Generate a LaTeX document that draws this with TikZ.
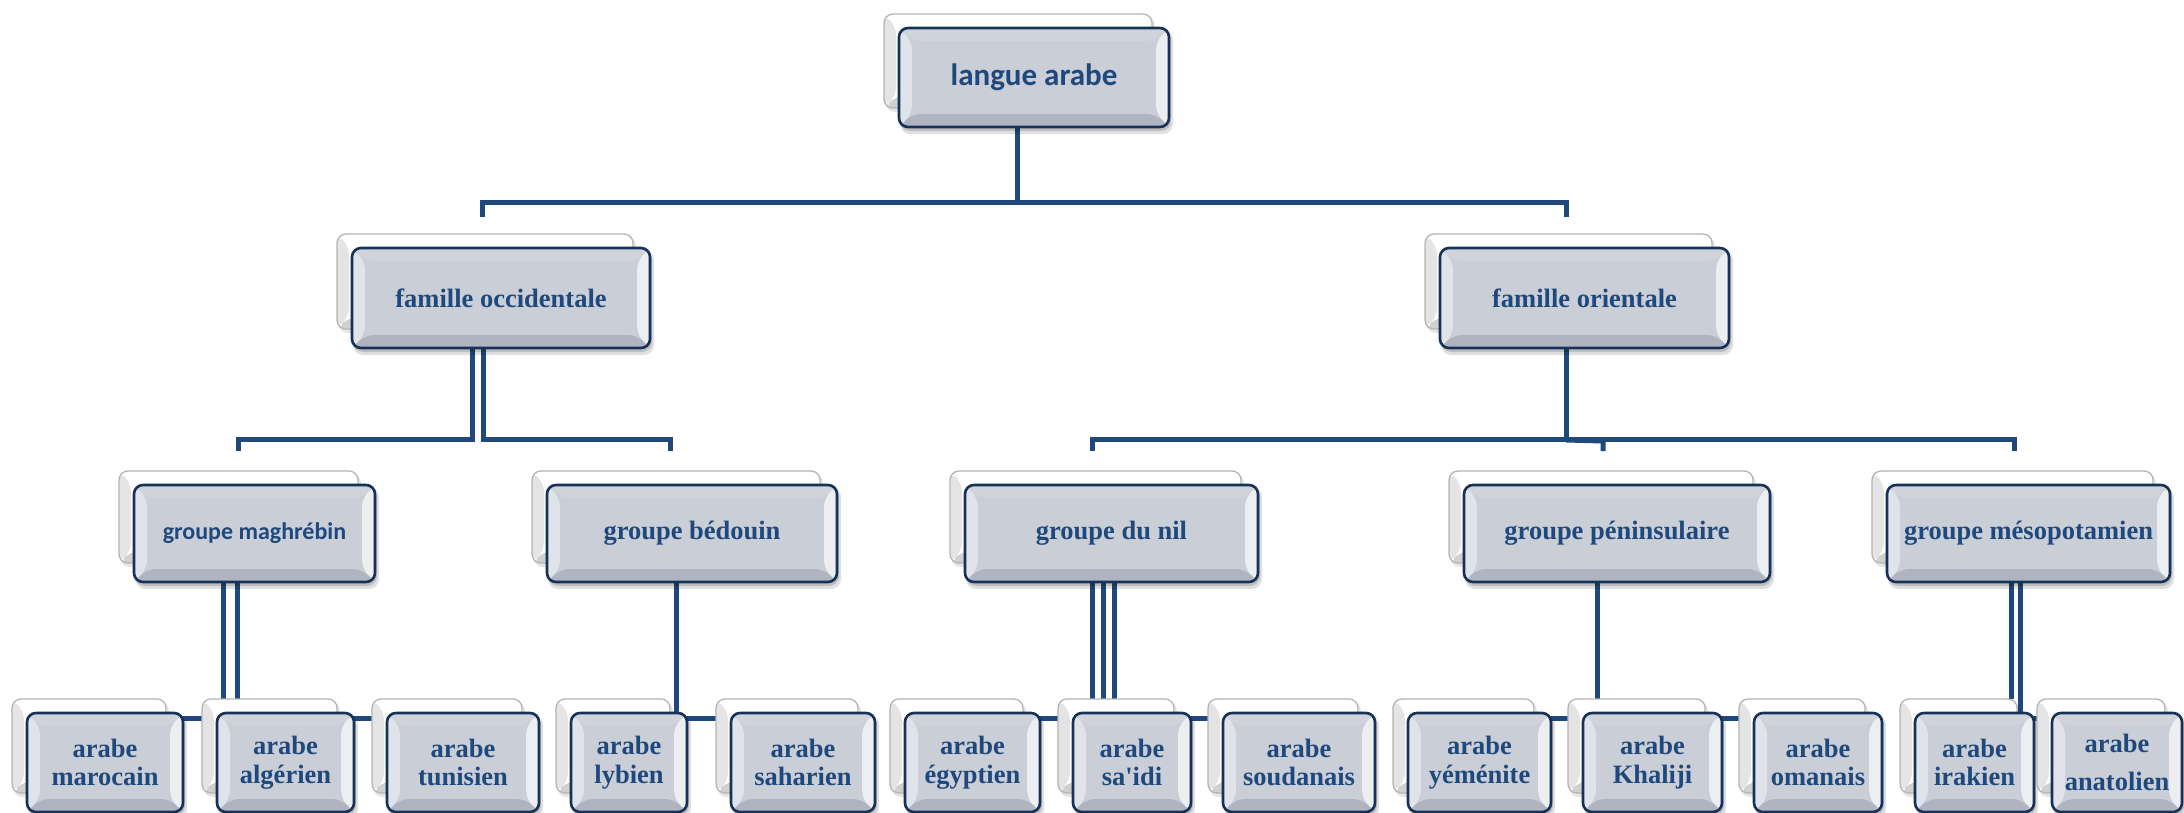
\documentclass[tikz,border=0pt]{standalone}
\usepackage{fontspec}
\setmainfont{Liberation Serif}
\newfontfamily\calibrifont{Carlito}
\usetikzlibrary{calc}
\definecolor{linec}{RGB}{31,73,125}
\definecolor{textc}{RGB}{31,73,125}
\definecolor{bordc}{RGB}{22,50,88}
\definecolor{fillc}{RGB}{202,206,215}
\definecolor{topc}{RGB}{208,211,218}
\definecolor{leftc}{RGB}{224,227,233}
\definecolor{rightc}{RGB}{236,238,242}
\definecolor{botc}{RGB}{176,180,192}
\definecolor{backbord}{RGB}{180,180,180}
\definecolor{backleft}{RGB}{228,228,228}
\definecolor{backbot}{RGB}{208,208,208}
\pgfdeclarelayer{conn}
\pgfdeclarelayer{back}
\pgfsetlayers{conn,back,main}
\newcommand\bevel[5]{%
  \fill[#2] (path picture bounding box.north west) -- (path picture bounding box.north east) -- ($(path picture bounding box.north east)+(-#1,#1)$) -- ($(path picture bounding box.north west)+(#1,#1)$) -- cycle;
  \fill[#3] (path picture bounding box.north west) -- (path picture bounding box.south west) -- ($(path picture bounding box.south west)+(#1,-#1)$) -- ($(path picture bounding box.north west)+(#1,#1)$) -- cycle;
  \fill[#4] (path picture bounding box.north east) -- (path picture bounding box.south east) -- ($(path picture bounding box.south east)+(-#1,-#1)$) -- ($(path picture bounding box.north east)+(-#1,#1)$) -- cycle;
  \fill[#5] (path picture bounding box.south west) -- (path picture bounding box.south east) -- ($(path picture bounding box.south east)+(-#1,-#1)$) -- ($(path picture bounding box.south west)+(#1,-#1)$) -- cycle;
}
\newcommand\boxdeco[1]{%
  \begin{pgfonlayer}{back}
    \fill[black, opacity=0.10, rounded corners=10pt] ($(#1.north west)+(-14,-12)$) rectangle ($(#1.south east)+(-14,-15)$);
    \path[backbox] ($(#1.north west)+(-15,-14)$) rectangle ($(#1.south east)+(-17,-19)$);
    \fill[black, opacity=0.12, rounded corners=10pt] ($(#1.north west)+(1,2)$) rectangle ($(#1.south east)+(4,7)$);
    \fill[black, opacity=0.15, rounded corners=10pt] ($(#1.north west)+(1,2)$) rectangle ($(#1.south east)+(2,4)$);
  \end{pgfonlayer}}
\newcommand\leaffont{\fontsize{26.5}{28.5}\selectfont\bfseries}
\newcommand\grpfont{\fontsize{26.5}{30}\selectfont\bfseries}
\begin{document}
\begin{tikzpicture}[x=1pt,y=-1pt,
  conn/.style={draw=linec, line width=5pt},
  frontbox/.style={draw=bordc, line width=2.6pt, rounded corners=9pt, fill=fillc,
    inner sep=0pt, outer sep=0pt, text=textc, align=center,
    path picture={\bevel{13}{topc}{leftc}{rightc}{botc}}},
  backbox/.style={draw=backbord, line width=1.3pt, fill=white, rounded corners=9pt,
    path picture={\bevel{12}{white}{backleft}{white}{backbot}}},
  leaf/.style={frontbox, minimum height=99pt, font=\leaffont},
  grp/.style={frontbox, minimum height=97pt, font=\grpfont},
  fam/.style={frontbox, minimum height=100pt, font=\grpfont}]
\begin{pgfonlayer}{conn}\fill[white] (0,0) rectangle (2184,813);\end{pgfonlayer}
\useasboundingbox (0,0) rectangle (2184,813);

% level 1
\node[frontbox, minimum width=270pt, minimum height=99pt,
  font=\calibrifont\fontsize{31}{36}\selectfont\bfseries] (root) at (1034,77.5) {langue arabe};
\boxdeco{root}
% level 2
\node[fam, minimum width=298pt] (occ) at (501,298) {famille occidentale};
\boxdeco{occ}
\node[fam, minimum width=289pt] (ori) at (1584.5,298) {famille orientale};
\boxdeco{ori}
% level 3
\node[grp, minimum width=241pt, font=\calibrifont\fontsize{24}{28}\selectfont\bfseries] (maghreb) at (254.5,533.5) {groupe maghrébin};
\boxdeco{maghreb}
\node[grp, minimum width=290pt] (bedouin) at (692,533.5) {groupe bédouin};
\boxdeco{bedouin}
\node[grp, minimum width=293pt] (nil) at (1111.5,533.5) {groupe du nil};
\boxdeco{nil}
\node[grp, minimum width=306pt] (penin) at (1617,533.5) {groupe péninsulaire};
\boxdeco{penin}
\node[grp, minimum width=283pt] (meso) at (2028.5,533.5) {groupe mésopotamien};
\boxdeco{meso}
% level 4
\node[leaf, minimum width=156pt] (maroc) at (105,762.5) {arabe\\marocain};
\boxdeco{maroc}
\node[leaf, minimum width=137pt] (alger) at (285.5,762.5) {arabe\\algérien};
\boxdeco{alger}
\node[leaf, minimum width=152pt] (tunis) at (463,762.5) {arabe\\tunisien};
\boxdeco{tunis}
\node[leaf, minimum width=116pt] (lybien) at (629,762.5) {arabe\\lybien};
\boxdeco{lybien}
\node[leaf, minimum width=144pt] (sahar) at (803,762.5) {arabe\\saharien};
\boxdeco{sahar}
\node[leaf, minimum width=135pt] (egypt) at (972.5,762.5) {arabe\\égyptien};
\boxdeco{egypt}
\node[leaf, minimum width=118pt] (saidi) at (1132,762.5) {arabe\\sa\textquotesingle idi};
\boxdeco{saidi}
\node[leaf, minimum width=152pt] (soudan) at (1299,762.5) {arabe\\soudanais};
\boxdeco{soudan}
\node[leaf, minimum width=143pt] (yemen) at (1479.5,762.5) {arabe\\yéménite};
\boxdeco{yemen}
\node[leaf, minimum width=139pt] (khaliji) at (1652.5,762.5) {arabe\\Khaliji};
\boxdeco{khaliji}
\node[leaf, minimum width=128pt] (oman) at (1818,762.5) {arabe\\omanais};
\boxdeco{oman}
\node[leaf, minimum width=119pt] (irak) at (1974.5,762.5) {arabe\\irakien};
\boxdeco{irak}
\node[leaf, minimum width=130pt] (anatol) at (2117,762.5) {arabe\\[10pt]anatolien};
\boxdeco{anatol}

% connectors
\begin{pgfonlayer}{conn}
  % level 1 -> 2
  \draw[conn] ($(root.south)+(-17,0)$) -- ++(0,76);
  \draw[conn] ($(occ.north)+(-19,-31)$) -- ++(0,-14) -- ($(ori.north)+(-18.5,-45)$) -- ++(0,14);
  % famille occidentale -> groupes
  \draw[conn] ($(occ.south)+(-29,0)$) |- ($(maghreb.north)+(-16.5,-46)$) -- ++(0,12);
  \draw[conn] ($(occ.south)+(-18,0)$) |- ($(bedouin.north)+(-22,-46)$) -- ++(0,12);
  % famille orientale -> groupes
  \draw[conn] ($(ori.south)+(-18.5,0)$) -- ++(0,90);
  \draw[conn] ($(nil.north)+(-19.5,-34)$) -- ++(0,-12) -- ($(meso.north)+(-14.5,-46)$) -- ++(0,12);
  \draw[conn] ($(ori.south)+(-18.5,92)$) -- ($(penin.north)+(-14,-44)$) -- ++(0,10);
  % groupe maghrebin -> leaves
  \draw[conn] ($(maghreb.south)+(-31.5,0)$) -- ++(0,117);
  \draw[conn] ($(maghreb.south)+(-17.5,0)$) -- ++(0,117);
  \draw[conn] ($(maroc.east)+(-20,-44.5)$) -- ($(tunis.west)+(20,-44.5)$);
  % groupe bedouin -> leaves
  \draw[conn] ($(bedouin.south)+(-16,0)$) -- ++(0,131);
  \draw[conn] ($(lybien.east)+(-20,-44.5)$) -- ($(sahar.west)+(20,-44.5)$);
  % groupe du nil -> leaves
  \draw[conn] ($(nil.south)+(-19.5,0)$) -- ++(0,117);
  \draw[conn] ($(nil.south)+(-8.5,0)$) -- ++(0,117);
  \draw[conn] ($(nil.south)+(2.5,0)$) -- ++(0,117);
  \draw[conn] ($(egypt.east)+(-20,-44.5)$) -- ($(soudan.west)+(20,-44.5)$);
  % groupe peninsulaire -> leaves
  \draw[conn] ($(penin.south)+(-20,0)$) -- ++(0,117);
  \draw[conn] ($(yemen.east)+(-20,-44.5)$) -- ($(oman.west)+(20,-44.5)$);
  % groupe mesopotamien -> leaves
  \draw[conn] ($(meso.south)+(-17.5,0)$) -- ++(0,117);
  \draw[conn] ($(meso.south)+(-8.5,0)$) -- ++(0,132);
  \draw[conn] ($(irak.east)+(-20,-44.5)$) -- ($(anatol.west)+(20,-44.5)$);
\end{pgfonlayer}
\end{tikzpicture}
\end{document}
